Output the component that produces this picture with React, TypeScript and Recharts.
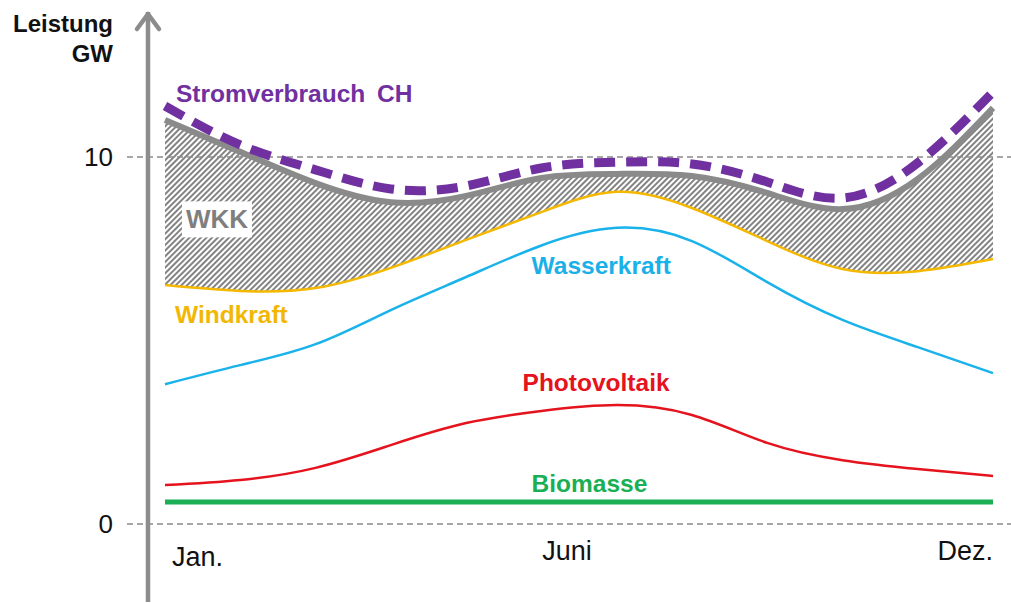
import { ComposedChart, Area, Line, XAxis, YAxis, ReferenceLine, ReferenceDot } from 'recharts'

// months, Jan. = 0 ... Dez. = 11
const MONTHS = [0, 1, 2, 3, 4, 5, 6, 7, 8, 9, 10, 11]

// GW
const STROMVERBRAUCH = [11.39, 10.33, 9.65, 9.13, 9.21, 9.7, 9.86, 9.81, 9.32, 8.88, 9.84, 11.77]
const WKK_TOP = [11.01, 10.14, 9.29, 8.77, 8.94, 9.43, 9.54, 9.48, 9.02, 8.58, 9.4, 11.34]
const WINDKRAFT = [6.51, 6.35, 6.43, 6.98, 7.74, 8.5, 9.05, 8.61, 7.71, 6.95, 6.89, 7.22]
const WASSERKRAFT = [3.81, 4.33, 4.9, 5.83, 6.73, 7.59, 8.07, 7.71, 6.59, 5.56, 4.82, 4.11]
const PHOTOVOLTAIK = [1.06, 1.2, 1.53, 2.15, 2.75, 3.08, 3.24, 2.97, 2.21, 1.74, 1.5, 1.31]
const BIOMASSE = [0.6, 0.6, 0.6, 0.6, 0.6, 0.6, 0.6, 0.6, 0.6, 0.6, 0.6, 0.6]

const X_TICKS = [0, 5.34, 11]
const X_TICK_LABELS = ['Jan.', 'Juni', 'Dez.']
const Y_TICKS = [0, 10]

const X_MIN = -0.5048
const X_MAX = 11.239
const Y_MIN = -2.125
const Y_MAX = 13.951
const Y_AXIS_X = -0.226

const FONT = '"Liberation Sans", Arial, sans-serif'
const AXIS_GRAY = '#8c8c8c'
const CURVE = 'natural'

const data = MONTHS.map((m, i) => ({
  m,
  strom: STROMVERBRAUCH[i],
  total: WKK_TOP[i],
  wkk: [WINDKRAFT[i], WKK_TOP[i]],
  wind: WINDKRAFT[i],
  wasser: WASSERKRAFT[i],
  pv: PHOTOVOLTAIK[i],
  bio: BIOMASSE[i],
}))

// series labels: [text, x, y, colour]
const LABELS: [string, number, number, string][] = [
  ['Stromverbrauch CH', 0.146, 11.5, '#7030a0'],
  ['Windkraft', 0.133, 5.48, '#f2b705'],
  ['Wasserkraft', 4.87, 6.81, '#1ab0e8'],
  ['Photovoltaik', 4.75, 3.62, '#e5131d'],
  ['Biomasse', 4.87, 0.87, '#1aaf54'],
]

function XTick(props: any) {
  const { x, y, payload, index } = props
  const anchor = index === 0 ? 'start' : index === X_TICKS.length - 1 ? 'end' : 'middle'
  const dx = index === 0 ? 7 : 0
  const dy = index === 0 ? -36 : -42
  const label = X_TICK_LABELS[X_TICKS.indexOf(payload.value)]
  return (
    <text x={x + dx} y={y + dy} textAnchor={anchor} fontSize={27} fill="#111" fontFamily={FONT}>
      {label}
    </text>
  )
}

function TitleLabel(props: any) {
  const vb = props.viewBox
  const xr = vb.x + vb.width - 14
  return (
    <g fontFamily={FONT} fontWeight="bold" fontSize={24} fill="#111" textAnchor="end">
      <text x={xr} y={vb.y + 20}>Leistung</text>
      <text x={xr} y={vb.y + 50}>GW</text>
    </g>
  )
}

export default function App() {
  return (
    <div style={{ position: 'absolute', left: 0, top: 0, width: 1011, height: 603, background: '#fff' }}>
      <ComposedChart width={1011} height={603} data={data} margin={{ top: 12, right: 0, bottom: 0, left: 0 }}>
        <defs>
          <pattern id="hatch" patternUnits="userSpaceOnUse" width="4" height="4" patternTransform="rotate(-45)">
            <rect width="4" height="4" fill="#fff" />
            <line x1="0" y1="2" x2="4" y2="2" stroke="#4d4d4d" strokeWidth="1.4" />
          </pattern>
        </defs>
        <XAxis
          type="number"
          dataKey="m"
          domain={[X_MIN, X_MAX]}
          ticks={X_TICKS}
          interval={0}
          allowDataOverflow
          axisLine={false}
          tickLine={false}
          tickSize={0}
          tickMargin={0}
          height={1}
          tick={<XTick />}
        />
        <YAxis
          type="number"
          domain={[Y_MIN, Y_MAX]}
          ticks={Y_TICKS}
          allowDataOverflow
          width={127}
          axisLine={false}
          tickLine={false}
          tickMargin={8}
          tick={{ fontSize: 26, fill: '#111', fontFamily: FONT }}
          label={<TitleLabel />}
        />
        {Y_TICKS.map((t) => (
          <ReferenceLine key={t} y={t} stroke="#8a8a8a" strokeWidth={1.3} strokeDasharray="6 4" />
        ))}
        <Area
          type={CURVE}
          dataKey="wkk"
          stroke="none"
          fill="url(#hatch)"
          fillOpacity={1}
          isAnimationActive={false}
        />
        <Line type={CURVE} dataKey="total" stroke="#8a8a8a" strokeWidth={6} dot={false} activeDot={false} isAnimationActive={false} />
        <Line type={CURVE} dataKey="wind" stroke="#f5b800" strokeWidth={2.5} dot={false} activeDot={false} isAnimationActive={false} />
        <Line type={CURVE} dataKey="wasser" stroke="#1ab2ea" strokeWidth={2.5} dot={false} activeDot={false} isAnimationActive={false} />
        <Line type={CURVE} dataKey="pv" stroke="#e5131d" strokeWidth={2.5} dot={false} activeDot={false} isAnimationActive={false} />
        <Line type={CURVE} dataKey="bio" stroke="#1aaf54" strokeWidth={5} dot={false} activeDot={false} isAnimationActive={false} />
        <Line
          type={CURVE}
          dataKey="strom"
          stroke="#7030a0"
          strokeWidth={9}
          strokeDasharray="21 11"
          dot={false}
          activeDot={false}
          isAnimationActive={false}
        />
        <ReferenceLine x={Y_AXIS_X} stroke={AXIS_GRAY} strokeWidth={4.5} />
        <ReferenceDot
          x={Y_AXIS_X}
          y={Y_MAX}
          ifOverflow="visible"
          shape={(p: any) => (
            <polyline
              points={`${p.cx - 11},${p.cy + 17} ${p.cx},${p.cy + 2} ${p.cx + 11},${p.cy + 17}`}
              fill="none"
              stroke={AXIS_GRAY}
              strokeWidth={4.5}
              strokeLinecap="round"
              strokeLinejoin="round"
            />
          )}
        />
        <ReferenceDot
          x={0.69}
          y={8.3}
          ifOverflow="visible"
          shape={(p: any) => (
            <g>
              <rect x={p.cx - 35} y={p.cy - 18} width={70} height={36} fill="#fff" />
              <text x={p.cx} y={p.cy + 9} textAnchor="middle" fontSize={26} fontWeight="bold" fill="#7f7f7f" fontFamily={FONT}>
                WKK
              </text>
            </g>
          )}
        />
        {LABELS.map(([text, x, y, color]) => (
          <ReferenceDot
            key={text}
            x={x}
            y={y}
            ifOverflow="visible"
            shape={(p: any) => (
              <text
                x={p.cx}
                y={p.cy}
                fontSize={24.5}
                fontWeight="bold"
                fill={color}
                fontFamily={FONT}
                wordSpacing={text === 'Stromverbrauch CH' ? 5 : 0}
              >
                {text}
              </text>
            )}
          />
        ))}
      </ComposedChart>
    </div>
  )
}
